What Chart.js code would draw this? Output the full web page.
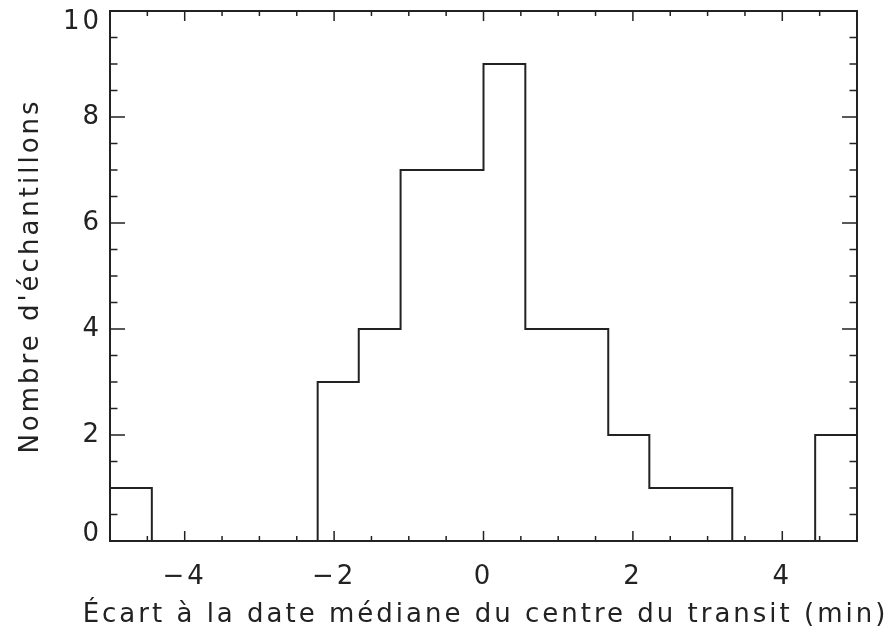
<!DOCTYPE html>
<html>
<head>
<meta charset="utf-8">
<script src="https://cdn.jsdelivr.net/npm/chart.js@4/dist/chart.umd.min.js"></script>
<style>
  html, body { margin: 0; padding: 0; background: #fff; }
  #wrap { width: 889px; height: 631px; }
</style>
</head>
<body>
<div id="wrap"><canvas id="histChart"></canvas></div>
<script>
// bin edges (min) and counts
const binEdges = [-5, -4.44, -3.89, -3.33, -2.78, -2.22, -1.67, -1.11, -0.56, 0,
  0.56, 1.11, 1.67, 2.22, 2.78, 3.33, 3.89, 4.44, 5];
const counts = [1, 0, 0, 0, 0, 3, 4, 7, 7, 9, 4, 4, 2, 1, 1, 0, 0, 2];
const xTickLabels = [-4, -2, 0, 2, 4];
const yTickLabels = [0, 2, 4, 6, 8, 10];
const xTitle = "Écart à la date médiane du centre du transit (min)";
const yTitle = "Nombre d'échantillons";

const ink = "#222";
const font = "26px 'DejaVu Sans'";

// step points: each left edge carries its bin count, last edge closes the last bin
const points = binEdges.map((e, i) => ({
  x: e,
  y: counts[Math.min(i, counts.length - 1)],
}));

// wide, airy lettering like the original plot font
const spacingPlugin = {
  id: "spacing",
  beforeLayout(chart) {
    chart.ctx.letterSpacing = "3px";
  },
  beforeDraw(chart) {
    chart.ctx.letterSpacing = "3px";
    // end labels sit inside the frame, like IDL does it
    const items = chart.scales.y.getLabelItems(chart.chartArea);
    items.forEach((it) => {
      if (it._moved) return;
      if (it.label === "10") it.options.translation[1] += 11;
      if (it.label === "0") it.options.translation[1] -= 7;
      it._moved = true;
    });
  },
};

// IDL-like frame with inward major/minor ticks on all four sides, plus x title
const framePlugin = {
  id: "frame",
  afterDraw(chart) {
    const { ctx, chartArea: a } = chart;
    const xs = chart.scales.x;
    const ys = chart.scales.y;
    ctx.save();
    ctx.strokeStyle = ink;
    ctx.lineWidth = 2;
    ctx.strokeRect(a.left, a.top, a.right - a.left, a.bottom - a.top);
    ctx.lineWidth = 1.5;
    ctx.beginPath();
    xs.ticks.forEach((t) => {
      const px = xs.getPixelForValue(t.value);
      const len = xTickLabels.includes(t.value) ? 10 : 5;
      ctx.moveTo(px, a.bottom);
      ctx.lineTo(px, a.bottom - len);
      ctx.moveTo(px, a.top);
      ctx.lineTo(px, a.top + len);
    });
    ys.ticks.forEach((t) => {
      const py = ys.getPixelForValue(t.value);
      const len = yTickLabels.includes(t.value) ? 15 : 7.5;
      ctx.moveTo(a.left, py);
      ctx.lineTo(a.left + len, py);
      ctx.moveTo(a.right, py);
      ctx.lineTo(a.right - len, py);
    });
    ctx.stroke();

    ctx.fillStyle = ink;
    ctx.font = font;
    ctx.letterSpacing = "3px";
    ctx.textAlign = "center";
    ctx.textBaseline = "alphabetic";
    ctx.fillText(xTitle, (a.left + a.right) / 2 + 2, 622);
    ctx.restore();
  },
};

const ctx = document.getElementById("histChart").getContext("2d");
new Chart(ctx, {
  type: "line",
  data: {
    datasets: [
      {
        label: yTitle,
        data: points,
        stepped: true,
        borderColor: ink,
        borderWidth: 2,
        pointRadius: 0,
        fill: false,
      },
    ],
  },
  options: {
    responsive: true,
    maintainAspectRatio: false,
    animation: false,
    layout: {
      padding: { top: 11, right: 32, left: 0, bottom: 0 },
    },
    plugins: {
      legend: { display: false },
      tooltip: { enabled: false },
    },
    scales: {
      x: {
        type: "linear",
        min: -5,
        max: 5,
        grid: { display: false, drawTicks: false },
        border: { display: false },
        ticks: {
          stepSize: 0.5,
          autoSkip: false,
          maxRotation: 0,
          padding: 21,
          color: ink,
          font: { family: "DejaVu Sans", size: 26 },
          callback: (v) =>
            xTickLabels.includes(v) ? String(v).replace("-", "\u2212") : "",
        },
        title: { display: false, text: xTitle },
        afterFit(scale) {
          scale.height = 90;
          scale.paddingLeft = 0;
          scale.paddingRight = 0;
        },
      },
      y: {
        type: "linear",
        min: 0,
        max: 10,
        grid: { display: false, drawTicks: false },
        border: { display: false },
        ticks: {
          stepSize: 0.5,
          autoSkip: false,
          padding: 8,
          color: ink,
          font: { family: "DejaVu Sans", size: 26 },
          callback: (v) => (yTickLabels.includes(v) ? String(v) : ""),
        },
        title: {
          display: true,
          text: yTitle,
          color: ink,
          font: { family: "DejaVu Sans", size: 26 },
          padding: { top: 16, bottom: 0 },
        },
        afterFit(scale) {
          scale.width = 110;
          scale.paddingTop = 0;
          scale.paddingBottom = 0;
        },
      },
    },
  },
  plugins: [spacingPlugin, framePlugin],
});
</script>
</body>
</html>
